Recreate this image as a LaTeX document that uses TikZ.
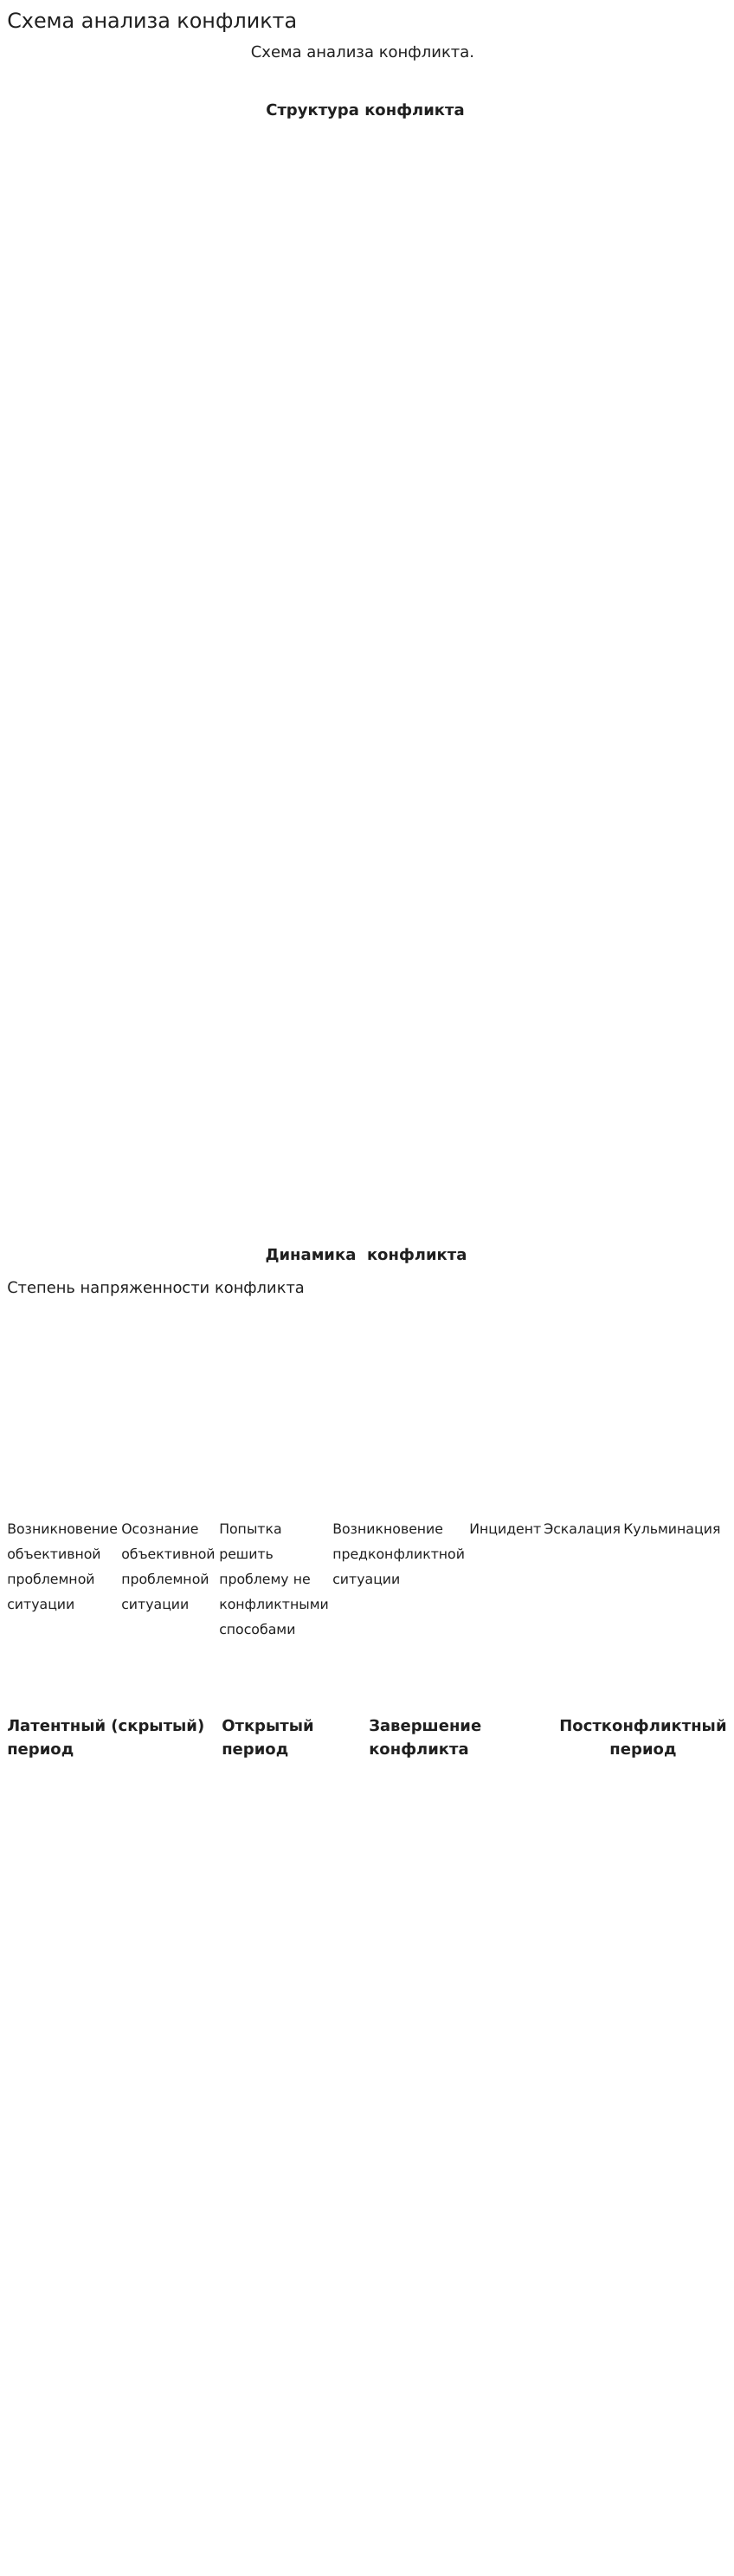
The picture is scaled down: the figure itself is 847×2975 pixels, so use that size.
\documentclass[tikz,border=0pt]{standalone}
\usepackage{fontspec}
\setmainfont{DejaVu Sans}
\usepackage{xcolor}
\usepackage{tikz}
\definecolor{ink}{rgb}{0.12,0.12,0.12}
\tikzset{
  lbl/.style={inner sep=0pt, text=ink, anchor=base west, align=left,
    font=\fontsize{11.8pt}{21.75pt}\selectfont},
  hdr/.style={inner sep=0pt, text=ink, anchor=base,
    font=\fontsize{13.5pt}{20pt}\selectfont\bfseries},
  period/.style={hdr, anchor=base west, align=left}
}

\begin{document}
\begin{tikzpicture}[x=0.75pt, y=-0.75pt]
		\useasboundingbox (0,0) rectangle (847,2975);
		%
		\node[lbl, font=\fontsize{17.9pt}{20pt}\selectfont] (title) at (8,33) {Схема анализа конфликта};
		\node[lbl, anchor=base, font=\fontsize{13.5pt}{16pt}\selectfont] (caption) at (419,67) {Схема анализа конфликта.};
		\node[hdr] (struct) at (422,134) {Структура конфликта};
		%
		\node[hdr] (dyn) at (423,1455) {Динамика\ \ конфликта};
		\node[lbl, font=\fontsize{13.4pt}{16pt}\selectfont] (tension) at (8,1493) {Степень напряженности конфликта};
		%
		% base = last line, first lines at 1771
		\node[lbl] (s1) at (8,1858) {Возникновение\\объективной\\проблемной\\ситуации};
		\node[lbl] (s2) at (140,1858) {Осознание\\объективной\\проблемной\\ситуации};
		\node[lbl] (s3) at (253,1887) {Попытка\\решить\\проблему не\\конфликтными\\способами};
		\node[lbl] (s4) at (384,1829) {Возникновение\\предконфликтной\\ситуации};
		\node[lbl] (s5) at (542,1771) {Инцидент};
		\node[lbl] (s6) at (628,1771) {Эскалация};
		\node[lbl] (s7) at (720,1771) {Кульминация};
		%
		\node[period] (p1) at (8,2026) {Латентный (скрытый)\\период};
		\node[period] (p2) at (256,2026) {Открытый\\период};
		\node[period] (p3) at (426,2026) {Завершение\\конфликта};
		\node[period, align=center, anchor=base] (p4) at (743,2026) {Постконфликтный\\период};
	\end{tikzpicture}
\end{document}
